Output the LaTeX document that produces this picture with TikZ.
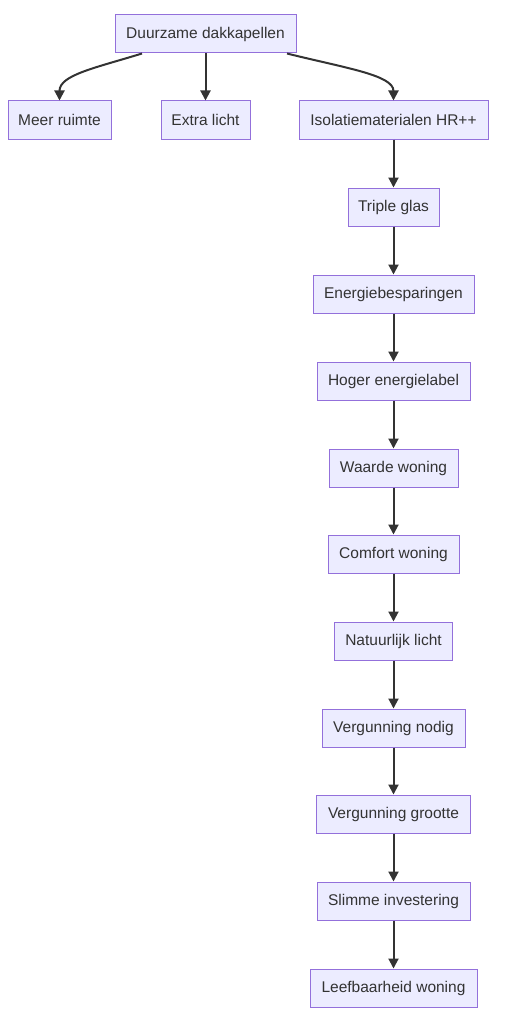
\documentclass[tikz,border=0pt]{standalone}
\usepackage{fontspec}
\setmainfont{Liberation Sans}
\usetikzlibrary{arrows.meta}
\definecolor{boxfill}{HTML}{ECECFF}
\definecolor{boxline}{HTML}{9370DB}
\definecolor{ink}{HTML}{333333}
\tikzset{
  box/.style={draw=boxline, fill=boxfill, line width=1pt, minimum height=38pt, inner xsep=10pt, inner ysep=0pt, text=ink, font=\fontsize{15.5pt}{18pt}\selectfont},
  edge/.style={draw=ink, line width=2pt, -{Triangle[length=10pt,width=10pt]}}
}
\begin{document}
\begin{tikzpicture}[x=1pt,y=-1pt]
\useasboundingbox (0,0) rectangle (504,1022);
\node[box, minimum width=181pt] (a) at (205.5,34) {Duurzame dakkapellen};
\node[box, minimum width=103pt] (b) at (59.5,120) {Meer ruimte};
\node[box, minimum width=89pt] (c) at (205.5,120) {Extra licht};
\node[box, minimum width=189pt] (d) at (393.5,120) {Isolatiematerialen HR++};
\node[box, minimum width=91pt] (e) at (393.5,207) {Triple glas};
\node[box, minimum width=161pt] (f) at (393.5,294) {Energiebesparingen};
\node[box, minimum width=153pt] (g) at (393.5,381) {Hoger energielabel};
\node[box, minimum width=129pt] (h) at (393.5,468) {Waarde woning};
\node[box, minimum width=131pt] (i) at (393.5,554) {Comfort woning};
\node[box, minimum width=118pt] (j) at (393.5,641) {Natuurlijk licht};
\node[box, minimum width=143pt] (k) at (393.5,728) {Vergunning nodig};
\node[box, minimum width=154pt] (l) at (393.5,814) {Vergunning grootte};
\node[box, minimum width=153pt] (m) at (393.5,901) {Slimme investering};
\node[box, minimum width=167pt] (n) at (393.5,988) {Leefbaarheid woning};
\draw[edge] ([xshift=-63.5pt]a.south) .. controls (95,68) and (59.5,75) .. (b.north);
\draw[edge] (a.south) -- (c.north);
\draw[edge] ([xshift=81.5pt]a.south) .. controls (345,68) and (393.5,75) .. (d.north);
\draw[edge] (d) -- (e);
\draw[edge] (e) -- (f);
\draw[edge] (f) -- (g);
\draw[edge] (g) -- (h);
\draw[edge] (h) -- (i);
\draw[edge] (i) -- (j);
\draw[edge] (j) -- (k);
\draw[edge] (k) -- (l);
\draw[edge] (l) -- (m);
\draw[edge] (m) -- (n);
\end{tikzpicture}
\end{document}
